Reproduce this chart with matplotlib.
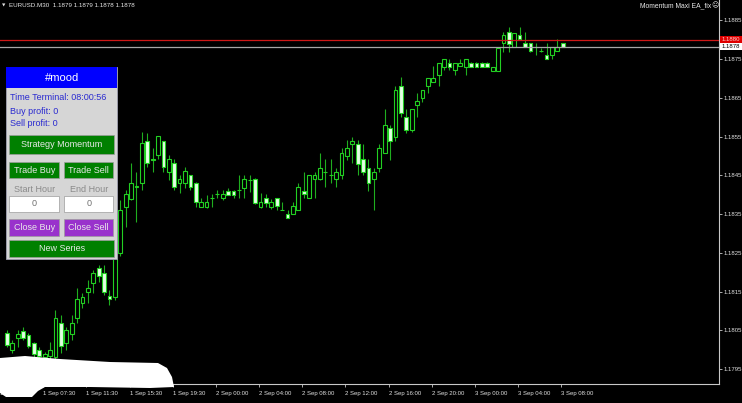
import matplotlib
matplotlib.use("Agg")
import matplotlib.pyplot as plt
from matplotlib.patches import Rectangle, Polygon
import numpy as np

# EURUSD M30 bars, index 0 = 1 Sep 07:30
bar_index = list(range(-7, 97))
opens = [
    1.18043, 1.17999, 1.18030, 1.18048, 1.18038, 1.18017, 1.17999,
    1.17981, 1.17984, 1.17981, 1.18069, 1.18017, 1.18041, 1.18082, 1.18121,
    1.18149, 1.18172, 1.18211, 1.18198, 1.18139, 1.18136, 1.18250, 1.18368,
    1.18389, 1.18420, 1.18430, 1.18538, 1.18492, 1.18502, 1.18538, 1.18459,
    1.18482, 1.18430, 1.18430, 1.18451, 1.18430, 1.18368, 1.18368, 1.18391,
    1.18402, 1.18391, 1.18409, 1.18409, 1.18412, 1.18417, 1.18438, 1.18440,
    1.18368, 1.18391, 1.18368, 1.18391, 1.18360, 1.18350, 1.18350, 1.18360,
    1.18409, 1.18391, 1.18440, 1.18440, 1.18459, 1.18451, 1.18440, 1.18451,
    1.18500, 1.18531, 1.18531, 1.18492, 1.18469, 1.18440, 1.18469, 1.18508,
    1.18572, 1.18549, 1.18680, 1.18600, 1.18567, 1.18631, 1.18649, 1.18680,
    1.18691, 1.18709, 1.18729, 1.18740, 1.18722, 1.18732, 1.18729, 1.18740,
    1.18740, 1.18740, 1.18740, 1.18719, 1.18719, 1.18791, 1.18820, 1.18781,
    1.18812, 1.18791, 1.18791, 1.18781, 1.18771, 1.18760, 1.18760, 1.18771,
    1.18791,
]
highs = [
    1.18051, 1.18025, 1.18051, 1.18059, 1.18043, 1.18020, 1.18007,
    1.17994, 1.18020, 1.18102, 1.18090, 1.18059, 1.18090, 1.18159, 1.18146,
    1.18180, 1.18206, 1.18218, 1.18218, 1.18154, 1.18257, 1.18386, 1.18412,
    1.18482, 1.18459, 1.18562, 1.18559, 1.18520, 1.18551, 1.18538, 1.18502,
    1.18492, 1.18451, 1.18471, 1.18451, 1.18433, 1.18391, 1.18399, 1.18402,
    1.18412, 1.18412, 1.18417, 1.18412, 1.18451, 1.18451, 1.18451, 1.18443,
    1.18404, 1.18402, 1.18389, 1.18391, 1.18381, 1.18360, 1.18381, 1.18430,
    1.18459, 1.18451, 1.18459, 1.18508, 1.18492, 1.18492, 1.18469, 1.18520,
    1.18541, 1.18549, 1.18541, 1.18531, 1.18492, 1.18469, 1.18531, 1.18621,
    1.18580, 1.18680, 1.18704, 1.18621, 1.18621, 1.18662, 1.18670, 1.18701,
    1.18732, 1.18740, 1.18750, 1.18750, 1.18740, 1.18750, 1.18750, 1.18742,
    1.18742, 1.18742, 1.18742, 1.18729, 1.18778, 1.18820, 1.18833, 1.18817,
    1.18833, 1.18820, 1.18791, 1.18791, 1.18778, 1.18791, 1.18781, 1.18802,
    1.18791,
]
lows = [
    1.18007, 1.17992, 1.18007, 1.18025, 1.18004, 1.17981, 1.17968,
    1.17968, 1.17968, 1.17973, 1.17992, 1.17999, 1.18025, 1.18069, 1.18108,
    1.18121, 1.18146, 1.18175, 1.18141, 1.18115, 1.18128, 1.18242, 1.18317,
    1.18386, 1.18330, 1.18412, 1.18471, 1.18459, 1.18492, 1.18459, 1.18438,
    1.18412, 1.18404, 1.18417, 1.18412, 1.18368, 1.18368, 1.18366, 1.18368,
    1.18391, 1.18386, 1.18399, 1.18391, 1.18391, 1.18391, 1.18407, 1.18376,
    1.18366, 1.18368, 1.18363, 1.18360, 1.18360, 1.18340, 1.18350, 1.18360,
    1.18391, 1.18391, 1.18391, 1.18438, 1.18420, 1.18430, 1.18420, 1.18440,
    1.18489, 1.18482, 1.18451, 1.18451, 1.18409, 1.18360, 1.18459, 1.18508,
    1.18489, 1.18538, 1.18600, 1.18559, 1.18562, 1.18600, 1.18639, 1.18662,
    1.18691, 1.18680, 1.18722, 1.18722, 1.18709, 1.18732, 1.18709, 1.18729,
    1.18729, 1.18729, 1.18729, 1.18719, 1.18719, 1.18768, 1.18768, 1.18781,
    1.18802, 1.18781, 1.18768, 1.18760, 1.18768, 1.18750, 1.18750, 1.18771,
    1.18781,
]
closes = [
    1.18012, 1.18017, 1.18041, 1.18030, 1.18010, 1.17989, 1.17984,
    1.17989, 1.17999, 1.18082, 1.18010, 1.18051, 1.18069, 1.18131, 1.18136,
    1.18159, 1.18198, 1.18190, 1.18149, 1.18131, 1.18250, 1.18360, 1.18402,
    1.18430, 1.18422, 1.18533, 1.18482, 1.18489, 1.18551, 1.18471, 1.18492,
    1.18420, 1.18440, 1.18461, 1.18420, 1.18381, 1.18381, 1.18381, 1.18392,
    1.18402, 1.18402, 1.18399, 1.18399, 1.18412, 1.18440, 1.18438, 1.18378,
    1.18381, 1.18378, 1.18381, 1.18371, 1.18360, 1.18340, 1.18371, 1.18420,
    1.18402, 1.18451, 1.18451, 1.18469, 1.18459, 1.18451, 1.18459, 1.18508,
    1.18520, 1.18538, 1.18479, 1.18459, 1.18430, 1.18459, 1.18520, 1.18580,
    1.18538, 1.18670, 1.18611, 1.18567, 1.18621, 1.18642, 1.18670, 1.18701,
    1.18701, 1.18740, 1.18750, 1.18729, 1.18740, 1.18740, 1.18750, 1.18729,
    1.18729, 1.18729, 1.18729, 1.18729, 1.18778, 1.18812, 1.18789, 1.18817,
    1.18802, 1.18781, 1.18771, 1.18781, 1.18771, 1.18750, 1.18781, 1.18781,
    1.18781,
]

ask_price = 1.1880
bid_price = 1.1878
price_ticks = [1.1795, 1.1805, 1.1815, 1.1825, 1.1835,
               1.1845, 1.1855, 1.1865, 1.1875, 1.1885]
time_tick_bars = [-8, 0, 8, 16, 24, 32, 40, 48, 56, 64, 72, 80, 88, 96]
time_tick_labels = ["1 Sep 03:30", "1 Sep 07:30", "1 Sep 11:30", "1 Sep 15:30",
                    "1 Sep 19:30", "2 Sep 00:00", "2 Sep 04:00", "2 Sep 08:00",
                    "2 Sep 12:00", "2 Sep 16:00", "2 Sep 20:00", "3 Sep 00:00",
                    "3 Sep 04:00", "3 Sep 08:00"]

W, H = 742, 403
FONT = "Liberation Sans"
WICK = "#1fae1f"
EDGE = "#22d022"
BEAR_FACE = "#e4ffe4"
AXIS_C = "#c8c8c8"
BODY = 0.7

fig = plt.figure(figsize=(W / 100, H / 100), dpi=100, facecolor="black")
ax = fig.add_axes([0, 19 / H, 718.7 / W, 384 / H])
ax.set_facecolor("black")
ax.set_xlim(-7.79, 124.89)
ax.set_ylim(1.17912, 1.18902)

# candles
for x, o, hi, lo, c in zip(bar_index, opens, highs, lows, closes):
    ax.vlines(x, lo, hi, color=WICK, lw=0.8, zorder=2)
    if abs(c - o) < 0.000015:
        ax.hlines(o, x - BODY / 2, x + BODY / 2, color=EDGE, lw=0.8, zorder=3)
        continue
    face = "black" if c > o else BEAR_FACE
    ax.add_patch(Rectangle((x - BODY / 2, min(o, c)), BODY, abs(c - o),
                           facecolor=face, edgecolor=EDGE, lw=0.8, zorder=3))

# ask / bid lines
ax.axhline(ask_price, color="#d01818", lw=0.9, zorder=4)
ax.axhline(bid_price, color="#a8a8a8", lw=0.9, zorder=4)

# axes frame
for side in ["top", "left"]:
    ax.spines[side].set_visible(False)
for side in ["right", "bottom"]:
    ax.spines[side].set_color(AXIS_C)
    ax.spines[side].set_linewidth(0.8)

ax.yaxis.tick_right()
ax.set_yticks(price_ticks)
ax.set_yticklabels([f"{p:.4f}" for p in price_ticks])
ax.tick_params(axis="y", colors=AXIS_C, length=2.2, width=0.6, pad=1.2,
               labelsize=4.3, labelcolor="#e0e0e0")
for lbl in ax.get_yticklabels():
    lbl.set_family(FONT)

ax.set_xticks([b - 0.28 for b in time_tick_bars])
ax.set_xticklabels(time_tick_labels)
ax.tick_params(axis="x", colors=AXIS_C, length=2.2, width=0.6, pad=2.5,
               labelsize=4.3, labelcolor="#e0e0e0")
for lbl in ax.get_xticklabels():
    lbl.set_family(FONT)
    lbl.set_horizontalalignment("left")

# overlay in pixel coordinates for terminal widgets
ov = fig.add_axes([0, 0, 1, 1], zorder=10)
ov.set_xlim(0, W)
ov.set_ylim(H, 0)
ov.axis("off")
ov.patch.set_alpha(0)

# price labels on the right axis
ov.add_patch(Rectangle((719.5, 36), 22.5, 6.8, facecolor="#e00000", edgecolor="none"))
ov.text(730.5, 39.4, f"{ask_price:.4f}", color="#ffd0d0", fontsize=4.3, family=FONT,
        ha="center", va="center")
ov.add_patch(Rectangle((719.5, 43.3), 22.5, 6.8, facecolor="white", edgecolor="none"))
ov.text(730.5, 46.8, f"{bid_price:.4f}", color="black", fontsize=4.3, family=FONT,
        ha="center", va="center")

# header texts
ov.text(3.5, 5.5, "▼", color="#e0e0e0", fontsize=3.2, ha="center", va="center")
ov.text(9.3, 5.2, "EURUSD.M30  1.1879 1.1879 1.1878 1.1878", color="#e8e8e8",
        fontsize=4.5, family=FONT, ha="left", va="center")
ov.text(711, 5.7, "Momentum Maxi EA_fix", color="#e8e8e8", fontsize=4.9,
        family=FONT, ha="right", va="center")
ov.text(714.5, 5.5, "☹", color="#e8e8e8", fontsize=5, family="DejaVu Sans",
        ha="center", va="center")

# control panel
ov.add_patch(Rectangle((6, 67.3), 111.3, 192, facecolor="#d6d6d6",
                       edgecolor="#9a9aa8", lw=0.7))
ov.add_patch(Rectangle((6, 67.3), 111.3, 21, facecolor="#0000ff", edgecolor="none"))
ov.text(61.6, 78, "#mood", color="white", fontsize=8, family=FONT,
        ha="center", va="center")
ov.text(10, 97.7, "Time Terminal: 08:00:56", color="#2a2ad0", fontsize=6.5,
        family=FONT, ha="left", va="center")
ov.text(10, 111.7, "Buy profit: 0", color="#2a2ad0", fontsize=6.5,
        family=FONT, ha="left", va="center")
ov.text(10, 123.3, "Sell profit: 0", color="#2a2ad0", fontsize=6.5,
        family=FONT, ha="left", va="center")


def button(x0, y0, w, h, label, face, txt="#e8e8e8"):
    ov.add_patch(Rectangle((x0, y0), w, h, facecolor=face, edgecolor="#9c9c9c", lw=0.5))
    ov.text(x0 + w / 2, y0 + h / 2, label, color=txt, fontsize=6.5, family=FONT,
            ha="center", va="center")


button(9.3, 135, 104.7, 19.3, "Strategy Momentum", "#008000")
button(9.3, 162.3, 50, 16, "Trade Buy", "#008000")
button(64, 162.3, 49.3, 16, "Trade Sell", "#008000")
ov.text(34.3, 189, "Start Hour", color="#8a8a8a", fontsize=6.5, family=FONT,
        ha="center", va="center")
ov.text(88.7, 189, "End Hour", color="#8a8a8a", fontsize=6.5, family=FONT,
        ha="center", va="center")
button(9.3, 195.7, 50, 16.6, "0", "white", txt="#707070")
button(64, 195.7, 49.3, 16.6, "0", "white", txt="#707070")
button(9.3, 219.3, 50, 16.4, "Close Buy", "#9932cc")
button(64, 219.3, 49.3, 16.4, "Close Sell", "#9932cc")
button(9.3, 240, 104.7, 16.7, "New Series", "#008000")

# white scribble at the bottom-left corner
ov.add_patch(Polygon([(0, 358), (25, 356), (60, 359), (110, 362), (158, 363),
                      (167, 368), (172, 377), (174, 387), (150, 388), (90, 387),
                      (45, 387), (38, 391), (32, 397), (6, 397), (0, 393)],
                     closed=True, facecolor="white", edgecolor="none"))

fig.savefig("out.png", dpi=100, facecolor="black")
